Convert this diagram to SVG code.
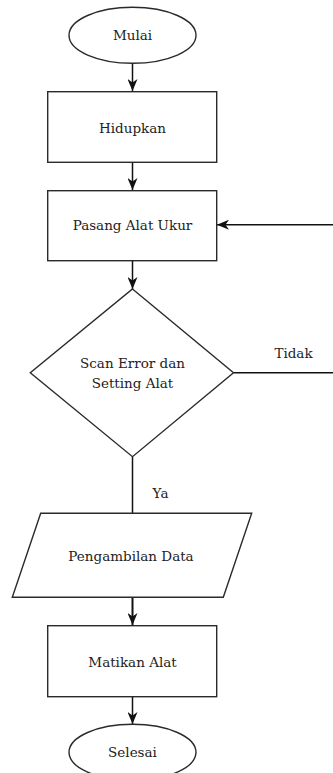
<svg xmlns="http://www.w3.org/2000/svg" width="333" height="773" viewBox="0 0 333 773">
<style>
.s{fill:#fff;stroke:#2a2a2a;stroke-width:1.4}
.t{font-family:'DejaVu Serif',serif;font-size:13.5px;fill:#222;text-anchor:middle}
.c{fill:none;stroke:#111;stroke-width:1.5}
</style>
<defs>
<marker id="ah" viewBox="0 0 12 10" refX="12" refY="5" markerWidth="12" markerHeight="10" markerUnits="userSpaceOnUse" orient="auto">
<path d="M0,0 L12,5 L0,10 L3.5,5 z" fill="#111"/>
</marker>
</defs>
<g id="connectors">
<path class="c" d="M132.5,63 V91" marker-end="url(#ah)"/>
<path class="c" d="M132.5,162 V190" marker-end="url(#ah)"/>
<path class="c" d="M132.5,261 V289" marker-end="url(#ah)"/>
<path class="c" d="M333,224.7 H217" marker-end="url(#ah)"/>
<path class="c" d="M233.5,372.7 H333"/>
<path class="c" d="M132.5,456.7 V513.3"/>
<path class="c" d="M132.5,597.3 V625" style="stroke-width:2" marker-end="url(#ah)"/>
<path class="c" d="M132.5,696.7 V724" marker-end="url(#ah)"/>
<text class="t" x="293.5" y="357.5">Tidak</text>
<text class="t" x="160.5" y="498">Ya</text>
</g>
<g id="mulai">
<ellipse class="s" cx="132.5" cy="35.3" rx="63.5" ry="28"/>
<text class="t" x="132.5" y="40.3">Mulai</text>
</g>
<g id="hidupkan">
<rect class="s" x="47.7" y="91.7" width="169" height="70.6"/>
<text class="t" x="132.5" y="132.5">Hidupkan</text>
</g>
<g id="pasang">
<rect class="s" x="47.7" y="190.7" width="169" height="70"/>
<text class="t" x="132.5" y="230">Pasang Alat Ukur</text>
</g>
<g id="scan">
<polygon class="s" points="132.5,289 233.5,372.7 132.5,456.7 30.3,372.7"/>
<text class="t" x="132.5" y="368">Scan Error dan</text>
<text class="t" x="132.5" y="388">Setting Alat</text>
</g>
<g id="pengambilan">
<polygon class="s" points="40.7,513.3 251.7,513.3 223.3,597.3 12.3,597.3"/>
<text class="t" x="131" y="561">Pengambilan Data</text>
</g>
<g id="matikan">
<rect class="s" x="47.7" y="625.7" width="169" height="71"/>
<text class="t" x="132.5" y="666.5">Matikan Alat</text>
</g>
<g id="selesai">
<ellipse class="s" cx="132.5" cy="752.3" rx="63.5" ry="28"/>
<text class="t" x="132.5" y="757.3">Selesai</text>
</g>
</svg>
